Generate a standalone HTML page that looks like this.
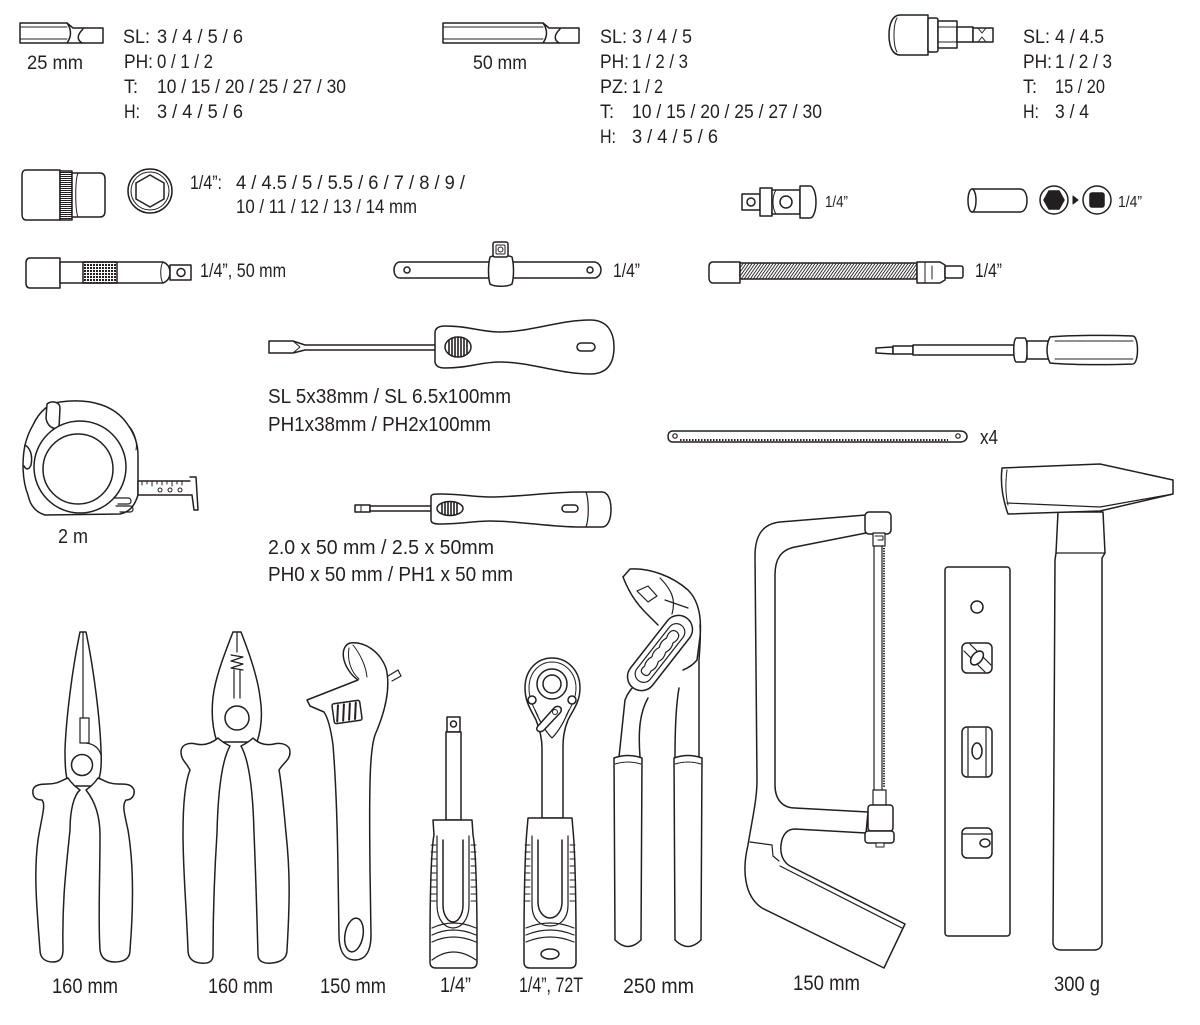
<!DOCTYPE html>
<html><head><meta charset="utf-8">
<style>
html,body{margin:0;padding:0;background:#fff;}
svg{display:block;}
text{font-family:"Liberation Sans",sans-serif;fill:#231f20;}
</style></head><body>
<svg width="1200" height="1025" viewBox="0 0 1200 1025" xmlns="http://www.w3.org/2000/svg">
<defs>
<pattern id="hl" width="4" height="2" patternUnits="userSpaceOnUse"><rect width="4" height="2" fill="#fff"/><rect width="4" height="1" fill="#231f20"/></pattern>
<pattern id="kn" width="3" height="3" patternUnits="userSpaceOnUse"><rect width="3" height="3" fill="#fff"/><rect width="2" height="2" fill="#231f20"/></pattern>
<pattern id="coil" width="3" height="20" patternUnits="userSpaceOnUse" patternTransform="skewX(-35)"><rect width="3" height="20" fill="#fff"/><rect width="1.1" height="20" fill="#231f20"/></pattern>
</defs>
<g fill="#fff" stroke="#231f20" stroke-width="1.5" stroke-linejoin="round" stroke-linecap="round">

<!-- Bit 25mm -->
<path d="M20,23 H67 L73,28 H103 V43 H20 Z"/>
<path d="M20,27 H67 M20,39 H67" fill="none" stroke-width="1"/>
<path d="M67,23 Q74,33 67,43" fill="none"/>
<path d="M83,29 Q74,38 82,43" fill="none"/>

<!-- Bit 50mm -->
<path d="M443,23 H543 L549,28 H579 V43 H443 Z"/>
<path d="M443,27 H543 M443,39 H543" fill="none" stroke-width="1"/>
<path d="M543,23 Q550,33 543,43" fill="none"/>
<path d="M560,29 Q551,38 559,43" fill="none"/>

<!-- Bit holder -->
<path d="M900,15 H928 V55 H900 C892,55 889,45 889,35 C889,25 892,15 900,15 Z"/>
<path d="M897,18 C893,25 893,45 897,52" fill="none" stroke-width="1"/>
<rect x="928" y="18" width="10" height="34" rx="2"/>
<rect x="938" y="21" width="19" height="27"/>
<path d="M938,27 H957 M938,42 H957" fill="none" stroke-width="1"/>
<rect x="957" y="27" width="16" height="15"/>
<rect x="973" y="28" width="20" height="14"/>
<path d="M978,28 L982,33 L986,28 M978,42 L982,37 L986,42" fill="none" stroke-width="1"/>

<!-- Socket -->
<path d="M26,170 H60 V220 H26 C23,220 22,217 22,214 V176 C22,172 23,170 26,170 Z"/>
<rect x="60" y="171" width="12" height="49" fill="url(#hl)"/>
<path d="M72,173 H100 C104,173 105,176 105,179 V211 C105,214 104,217 100,217 H72 Z"/>
<path d="M78,173 C75,180 75,210 78,217" fill="none" stroke-width="1"/>

<!-- Hex socket -->
<circle cx="150" cy="191" r="22"/>
<circle cx="150" cy="191" r="19" fill="none" stroke-width="1"/>
<polygon points="150,175 164,183 164,199 150,207 136,199 136,183"/>

<!-- U-joint -->
<rect x="742" y="194" width="18" height="16"/>
<circle cx="751" cy="202" r="4"/>
<rect x="760" y="188" width="12" height="28"/>
<path d="M772,190 H800 V214 H772 Z"/>
<path d="M776,190 C772,196 772,208 776,214" fill="none" stroke-width="1"/>
<circle cx="786" cy="202" r="6"/>
<path d="M800,186 H810 C814,186 816,195 816,202 C816,209 814,218 810,218 H800 Z"/>

<!-- Deep socket -->
<path d="M972,189 H1020 C1025,189 1027,195 1027,200.5 C1027,206 1025,212 1020,212 H972 Z"/>
<ellipse cx="972" cy="200.5" rx="4" ry="11.5"/>
<circle cx="1054" cy="200" r="14"/>
<polygon fill="#231f20" points="1044,200 1049,191 1059,191 1064,200 1059,209 1049,209"/>
<polygon fill="#231f20" stroke-width="1" points="1073,196 1078,200 1073,204"/>
<circle cx="1097" cy="200" r="14"/>
<rect x="1090" y="193" width="14" height="14" rx="2" fill="#231f20"/>

<!-- Extension bar -->
<path d="M30,258 H60 V288 H30 C27,288 26,286 26,283 V263 C26,260 27,258 30,258 Z"/>
<path d="M60,262 H163 C168,264 170,268 170,272.5 C170,277 168,281 163,283 H60 Z"/>
<rect x="83" y="262" width="34" height="21" fill="url(#kn)"/>
<path d="M163,262 C160,266 160,279 163,283" fill="none" stroke-width="1"/>
<rect x="170" y="265" width="21" height="15"/>
<circle cx="181" cy="272.5" r="4"/>

<!-- T-handle -->
<path d="M400,262 H594 C598,262 601,266 601,270 C601,274 598,278 594,278 H400 C396,278 394,274 394,270 C394,266 396,262 400,262 Z"/>
<circle cx="407" cy="270" r="3"/>
<circle cx="590" cy="270" r="3"/>
<path d="M490,257 C494,255 508,255 512,257 C514,265 514,277 512,284 C508,287 494,287 490,284 C488,277 488,265 490,257 Z"/>
<rect x="493" y="242" width="15" height="15" rx="2"/>
<rect x="496" y="245" width="9" height="9" rx="1" stroke-width="1"/>
<circle cx="500.5" cy="249.5" r="2.5" stroke-width="1"/>

<!-- Flex shaft -->
<path d="M713,262 H740 V283 H713 C710,283 709,280 709,278 V267 C709,264 710,262 713,262 Z"/>
<rect x="740" y="263" width="177" height="16" fill="url(#coil)"/>
<path d="M917,262 H940 L945,265 V280 L940,283 H917 Z"/>
<path d="M925,262 V283 M932,266 V279" fill="none" stroke-width="1"/>
<rect x="945" y="266" width="18" height="12" rx="2"/>

<!-- Screwdriver 1 -->
<path d="M269,341 H293 L305,345 H436 V350 H305 L293,353 H269 Z"/>
<path d="M293,341 L300,347 L293,353" fill="none" stroke-width="1"/>
<path d="M435,333 Q435,326 445,326 C470,326 480,332 500,332 C530,332 560,320 590,320 C609,320 614,334 614,347 C614,361 609,374 590,374 C560,374 530,362 500,362 C480,362 470,368 445,368 Q435,368 435,361 Z"/>
<ellipse cx="458" cy="347" rx="13" ry="10"/>
<path d="M449,340 V354 M452,338 V356 M455,337 V357 M458,337 V357 M461,337 V357 M464,338 V356 M467,340 V354" fill="none" stroke-width="1.6"/>
<rect x="577" y="343" width="18" height="8" rx="4"/>

<!-- Screwdriver 2 -->
<path d="M876,348 L893,347 V354 L876,353 Z"/>
<rect x="893" y="346" width="20" height="8"/>
<rect x="913" y="345" width="102" height="10"/>
<path d="M1016,338 H1025 C1028,341 1028,359 1025,362 H1016 C1013,359 1013,341 1016,338 Z"/>
<rect x="1027" y="341" width="23" height="18"/>
<path d="M1050,337 C1070,335 1110,335 1133,336 C1139,337 1139,363 1133,364 C1110,365 1070,365 1050,363 C1046,355 1046,345 1050,337 Z"/>
<path d="M1055,341 H1133 M1055,359 H1133" fill="none" stroke-width="1"/>

<!-- Hacksaw blade -->
<path d="M673,431 H960 C965,431 967,434 967,436.5 C967,439 965,442 960,442 H673 C669,442 668,439 668,436.5 C668,434 669,431 673,431 Z"/>
<circle cx="675" cy="436" r="2.2" stroke-width="1.2"/>
<circle cx="958" cy="436" r="2.2" stroke-width="1.2"/>
<path d="M680,440 H948" fill="none" stroke-width="2" stroke-dasharray="1.5 1.5" stroke-linecap="butt"/>

<!-- Precision screwdriver -->
<rect x="355" y="505" width="15" height="7"/>
<path d="M361,505 V512" fill="none" stroke-width="1"/>
<rect x="370" y="506" width="61" height="5"/>
<path d="M431,497 C431,494 434,494 440,494 C460,494 475,497 490,497 C520,497 550,492 580,492 H602 C608,492 611,500 611,509.5 C611,519 608,527 602,527 H580 C550,527 520,521 490,521 C475,521 460,524 440,524 C434,524 431,523 431,520 Z"/>
<path d="M586,492 C589,500 589,519 586,527" fill="none" stroke-width="1.2"/>
<ellipse cx="450" cy="508.5" rx="13" ry="7"/>
<path d="M442,504 V513 M445,502 V515 M448,502 V515 M451,502 V515 M454,502 V515 M457,503 V514" fill="none" stroke-width="1.6"/>
<rect x="562" y="505" width="16" height="7" rx="3.5"/>

<!-- Tape measure -->
<path d="M33,425 C40,410 50,403 60,402 C90,398 115,405 128,425 C135,435 138,445 138,455 L138,495 C135,505 130,512 120,514 L45,515 C35,512 30,505 28,495 C22,480 22,460 25,445 C27,437 30,430 33,425 Z"/>
<path d="M47,404 C52,400 60,402 60,408 L59,428 C52,430 47,425 46,418 Z"/>
<path d="M25,445 C30,448 33,455 31,465 C29,470 26,470 24,466" fill="none"/>
<circle cx="80" cy="467" r="46"/>
<circle cx="78" cy="469" r="35"/>
<path d="M128,425 C133,430 138,440 136,450" fill="none" stroke-width="1"/>
<rect x="138" y="481" width="55" height="14"/>
<path d="M142,481 V485 M147,481 V484 M152,481 V486 M157,481 V484 M162,481 V485 M167,481 V484 M172,481 V486 M177,481 V484 M182,481 V485" fill="none" stroke-width="1"/>
<circle cx="160" cy="490" r="2" stroke-width="1"/><circle cx="170" cy="490" r="2" stroke-width="1"/><circle cx="180" cy="490" r="2" stroke-width="1"/>
<path d="M190,477 L196,477 L198,510 L194,510 L192,495" />
<path d="M114,498 H128 C132,498 132,504 128,504 H118 M116,506 H130 C134,506 134,512 130,512 H120" fill="none" stroke-width="1.2"/>

<!-- Needle nose pliers -->
<path d="M80,632 L86,632 C94,670 100,720 101,750 C102,770 100,780 95,786 L70,786 C66,780 65,770 65,750 C66,720 72,670 80,632 Z"/>
<path d="M83,632 V718" fill="none" stroke-width="1.2"/>
<rect x="80" y="718" width="9" height="25" stroke-width="1.2"/>
<path d="M86,743 C94,744 99,748 101,755" fill="none" stroke-width="1.2"/>
<circle cx="82" cy="765" r="10.5"/>
<path d="M80,790 C74,795 70,810 70,830 C66,870 62,900 63,950 C63,958 60,962 53,962 C45,962 40,958 40,950 C36,900 34,870 38,840 C42,815 46,805 42,800 C36,800 32,797 33,790 C34,785 40,784 48,784 C58,784 62,780 68,778 C72,784 76,787 80,790 Z"/>
<path d="M86,790 C94,800 100,815 100,835 C100,880 98,920 100,950 C101,958 106,962 115,962 C125,962 130,958 130,950 C134,900 133,860 128,830 C124,812 122,805 126,800 C132,800 135,795 134,790 C132,784 126,784 118,784 C108,784 104,780 98,778 C94,784 90,787 86,790 Z"/>

<!-- Combination pliers -->
<path d="M233,632 L241,632 C252,660 258,680 260,697 C263,715 261,730 257,742 L217,742 C213,730 211,715 213,697 C215,680 222,660 233,632 Z"/>
<path d="M237,632 V652 M231,655 L243,657 L231,661 L243,664 L231,668 L243,670 M234,670 V698 M240,670 V698" fill="none" stroke-width="1.2"/>
<circle cx="237" cy="718" r="12"/>
<path d="M230,746 C222,760 218,790 217,833 C214,880 213,920 213,955 C213,962 208,964 200,963 C192,962 188,958 188,950 C186,900 183,870 183,833 C183,800 186,780 190,770 C186,762 181,760 181,752 C181,745 188,742 196,744 C205,746 212,743 218,738 C222,742 226,744 230,746 Z"/>
<path d="M241,746 C249,760 253,790 254,833 C256,880 257,920 258,955 C258,962 265,964 272,963 C282,962 287,958 287,950 C290,900 290,870 286,833 C283,800 281,780 279,770 C284,762 290,760 290,752 C290,745 282,742 274,744 C265,746 258,743 253,738 C249,742 245,744 241,746 Z"/>

<!-- Adjustable wrench -->
<path d="M307,700 L358,680 C352,676 346,668 344,660 C342,652 344,645 350,643 C365,641 380,652 386,668 C391,688 385,712 375,735 C370,750 369,780 370,870 L371,935 C371,952 365,960 355,960 C345,960 339,952 339,935 L338,870 C337,800 335,770 333,745 C331,730 328,718 324,712 L310,706 Z"/>
<path d="M349,648 C347,660 351,672 359,679 M353,645 C361,655 366,667 367,677" fill="none" stroke-width="1"/>
<path d="M388,676 L398,670 L401,676 L392,681" fill="none" stroke-width="1.2"/>
<g transform="rotate(-8 347 712)"><rect x="333" y="702" width="28" height="20" rx="2"/>
<path d="M339,704 L336,720 M345,704 L342,720 M351,704 L348,720 M357,704 L354,720" fill="none" stroke-width="2"/></g>
<ellipse cx="354" cy="935" rx="9" ry="17" transform="rotate(10 354 935)"/>

<!-- Spinner handle -->
<rect x="447" y="717" width="13" height="15"/>
<circle cx="453.5" cy="724" r="3"/>
<rect x="446" y="732" width="15" height="88"/>
<path d="M433,820 H472 L473,835 C476,850 477,900 477,940 L477,962 C477,966 475,968 471,968 H436 C432,968 430,966 430,962 L430,940 C430,900 431,850 434,835 Z"/>
<path d="M437,836 V905 C437,920 445,928 453,928 C461,928 469,920 469,905 V836" fill="none" stroke-width="1.2"/>
<path d="M443,840 V905 C443,915 448,922 453,922 C458,922 463,915 463,905 V840" fill="none"/>
<path d="M431,845 H436 M431,852 H436 M431,859 H436 M431,866 H436 M431,873 H436 M431,880 H436 M431,887 H436 M431,894 H436 M431,901 H436 M471,845 H476 M471,852 H476 M471,859 H476 M471,866 H476 M471,873 H476 M471,880 H476 M471,887 H476 M471,894 H476 M471,901 H476" fill="none" stroke-width="1"/>
<path d="M432,928 Q453,918 476,928 M432,935 Q453,925 476,935 M432,942 Q453,932 476,942 M432,960 Q453,944 476,960" fill="none" stroke-width="1.2"/>

<!-- Ratchet -->
<path d="M552,658 C567,658 580,670 580,688 C580,702 573,710 568,720 C564,730 563,738 563,748 L563,818 H542 L542,748 C542,738 540,730 536,720 C531,710 525,702 525,688 C525,670 537,658 552,658 Z"/>
<path d="M552,662 C564,662 576,672 576,688 C576,700 570,708 566,716 M552,662 C540,662 529,672 529,688 C529,700 534,708 538,716" fill="none" stroke-width="1"/>
<circle cx="552" cy="684" r="15"/>
<circle cx="552" cy="684" r="9"/>
<circle cx="532" cy="700" r="4"/>
<circle cx="572" cy="700" r="4"/>
<path d="M535,710 C540,722 546,732 552,738 C558,732 564,722 569,710" fill="none" stroke-width="1.2"/>
<path d="M538,726 L554,708 C558,704 564,708 560,713 L544,730 C540,734 534,730 538,726 Z"/>
<circle cx="555" cy="712" r="2.5" stroke-width="1"/>
<path d="M528,818 H572 L573,830 C575,850 576,900 576,940 V962 C576,966 574,968 570,968 H530 C526,968 524,966 524,962 V940 C524,900 525,850 527,830 Z"/>
<path d="M532,836 V905 C532,920 541,926 550,926 C559,926 568,920 568,905 V836" fill="none" stroke-width="1.2"/>
<path d="M538,840 V902 C538,912 544,918 550,918 C556,918 562,912 562,902 V840" fill="none"/>
<path d="M525,845 H530 M525,852 H530 M525,859 H530 M525,866 H530 M525,873 H530 M525,880 H530 M525,887 H530 M525,894 H530 M525,901 H530 M570,845 H575 M570,852 H575 M570,859 H575 M570,866 H575 M570,873 H575 M570,880 H575 M570,887 H575 M570,894 H575 M570,901 H575" fill="none" stroke-width="1"/>
<path d="M526,928 Q550,918 574,928 M526,935 Q550,925 574,935 M526,942 Q550,932 574,942" fill="none" stroke-width="1.2"/>
<ellipse cx="550" cy="954" rx="9" ry="5"/>

<!-- Water pump pliers -->
<path d="M619,757 L625,700 C628,692 632,688 636,684 M640,757 C638,730 640,712 648,698" fill="none"/>
<path d="M675,757 C675,730 676,705 679,688 M699,757 L699,660 C700,645 701,635 700,625" fill="none"/>
<path d="M623,577 L630,569 C650,568 672,576 688,590 C698,600 702,615 700,637 L697,660 C693,665 688,668 683,670" fill="none"/>
<path d="M623,577 C628,590 636,603 645,612 L658,625" fill="none"/>
<path d="M660,578 C672,590 676,600 672,614 M665,600 L688,608" fill="none" stroke-width="1.2"/>
<polygon points="637,591 648,586 657,596 648,602" stroke-width="1.2"/>
<g transform="translate(660,653) rotate(-52)">
<rect x="-44" y="-14" width="88" height="28" rx="14"/>
<rect x="-35" y="-8.5" width="70" height="17" rx="8.5" stroke-width="1.2"/>
<path d="M-27,0 C-27,-5 -23,-5 -20,-4 C-16,-6 -12,-6 -8,-4 C-4,-6 0,-6 4,-4 C8,-6 12,-6 16,-4 C20,-6 27,-6 27,0 C27,6 20,6 16,4 C12,6 8,6 4,4 C0,6 -4,6 -8,4 C-12,6 -16,6 -20,4 C-23,5 -27,5 -27,0 Z" stroke-width="1.2"/>
</g>
<path d="M614,758 Q628,753 642,758 L641,940 Q628,953 615,940 Z"/>
<path d="M674,758 Q688,753 702,758 L701,940 Q688,953 675,940 Z"/>
<path d="M615,764 Q628,760 641,764 M675,764 Q688,760 701,764" fill="none" stroke-width="1"/>

<!-- Hacksaw frame -->
<path d="M866,515 L780,522 C762,524 755,536 755,556 L757,780 C757,800 752,820 748,845 C742,870 744,896 762,908 L884,968 L905,924 L790,866 C783,862 780,854 781,845 C782,835 787,829 795,829 L866,833 L868,812 L795,808 C783,808 775,800 775,785 L775,575 C775,560 780,550 795,547 L866,533 Z"/>
<path d="M750,842 L772,845 L773,856 L779,861 M780,866 L902,928" fill="none" stroke-width="1.2"/>
<rect x="865" y="512" width="26" height="22" rx="4"/>
<rect x="873" y="533" width="12" height="13" stroke-width="1.2"/>
<path d="M875,536 H883 V540 H878" fill="none" stroke-width="1"/>
<path d="M874,546 V790 M882,546 V790" fill="none" stroke-width="1.2"/>
<path d="M884,548 V788" fill="none" stroke-width="2" stroke-dasharray="1.2 1.3" stroke-linecap="butt"/>
<rect x="873" y="790" width="13" height="16" stroke-width="1.2"/>
<rect x="868" y="805" width="25" height="26" rx="3"/>
<rect x="865" y="831" width="29" height="12" rx="3"/>
<rect x="876" y="843" width="8" height="4" stroke-width="1"/>

<!-- Level -->
<rect x="945" y="567" width="65" height="369" rx="3"/>
<circle cx="977" cy="607" r="6"/>
<rect x="962" y="643" width="30" height="30" rx="5"/>
<path d="M964,651 L985,672 M970,644 L991,665" fill="none" stroke-width="1.2"/>
<ellipse cx="977" cy="658" rx="5" ry="8" transform="rotate(40 977 658)"/>
<rect x="962" y="727" width="30" height="50" rx="5"/>
<path d="M968,728 V776 M986,728 V776" fill="none" stroke-width="1.2"/>
<ellipse cx="977" cy="751" rx="5" ry="8"/>
<rect x="962" y="828" width="30" height="30" rx="5"/>
<path d="M963,834 H991" fill="none" stroke-width="1.2"/>
<ellipse cx="985" cy="843" rx="5" ry="4"/>

<!-- Hammer -->
<path d="M1058,512 L1103,512 L1105,553 L1102,558 L1102,942 C1102,947 1099,950 1094,950 H1061 C1056,950 1053,947 1053,942 L1055,560 L1056,553 Z"/>
<path d="M1056,553 H1105" fill="none" stroke-width="1.2"/>
<path d="M1002,468 L1100,464 L1173,480 L1173,494 L1100,511 L1008,514 C1003,500 1000,485 1002,468 Z"/>
<path d="M1007,503 L1100,507 L1173,494" fill="none" stroke-width="1.2"/>
<path d="M1007,470 C1005,485 1006,497 1008,505" fill="none" stroke-width="1"/>
</g>

<g>
<!-- top left -->
<text x="27" y="69" font-size="19" textLength="56" lengthAdjust="spacingAndGlyphs">25 mm</text>
<text x="123" y="43" font-size="19" textLength="27" lengthAdjust="spacingAndGlyphs">SL:</text>
<text x="157" y="43" font-size="19" textLength="86" lengthAdjust="spacingAndGlyphs">3 / 4 / 5 / 6</text>
<text x="124" y="68" font-size="19" textLength="29" lengthAdjust="spacingAndGlyphs">PH:</text>
<text x="157" y="68" font-size="19" textLength="56" lengthAdjust="spacingAndGlyphs">0 / 1 / 2</text>
<text x="124" y="93" font-size="19" textLength="14" lengthAdjust="spacingAndGlyphs">T:</text>
<text x="157" y="93" font-size="19" textLength="189" lengthAdjust="spacingAndGlyphs">10 / 15 / 20 / 25 / 27 / 30</text>
<text x="124" y="118" font-size="19" textLength="16" lengthAdjust="spacingAndGlyphs">H:</text>
<text x="157" y="118" font-size="19" textLength="86" lengthAdjust="spacingAndGlyphs">3 / 4 / 5 / 6</text>
<!-- top middle -->
<text x="473" y="69" font-size="19" textLength="54" lengthAdjust="spacingAndGlyphs">50 mm</text>
<text x="600" y="43" font-size="19" textLength="27" lengthAdjust="spacingAndGlyphs">SL:</text>
<text x="632" y="43" font-size="19" textLength="60" lengthAdjust="spacingAndGlyphs">3 / 4 / 5</text>
<text x="600" y="68" font-size="19" textLength="29" lengthAdjust="spacingAndGlyphs">PH:</text>
<text x="632" y="68" font-size="19" textLength="56" lengthAdjust="spacingAndGlyphs">1 / 2 / 3</text>
<text x="600" y="93" font-size="19" textLength="28" lengthAdjust="spacingAndGlyphs">PZ:</text>
<text x="632" y="93" font-size="19" textLength="31" lengthAdjust="spacingAndGlyphs">1 / 2</text>
<text x="600" y="118" font-size="19" textLength="14" lengthAdjust="spacingAndGlyphs">T:</text>
<text x="632" y="118" font-size="19" textLength="190" lengthAdjust="spacingAndGlyphs">10 / 15 / 20 / 25 / 27 / 30</text>
<text x="600" y="143" font-size="19" textLength="16" lengthAdjust="spacingAndGlyphs">H:</text>
<text x="632" y="143" font-size="19" textLength="86" lengthAdjust="spacingAndGlyphs">3 / 4 / 5 / 6</text>
<!-- top right -->
<text x="1023" y="43" font-size="19" textLength="27" lengthAdjust="spacingAndGlyphs">SL:</text>
<text x="1055" y="43" font-size="19" textLength="49" lengthAdjust="spacingAndGlyphs">4 / 4.5</text>
<text x="1023" y="68" font-size="19" textLength="29" lengthAdjust="spacingAndGlyphs">PH:</text>
<text x="1055" y="68" font-size="19" textLength="57" lengthAdjust="spacingAndGlyphs">1 / 2 / 3</text>
<text x="1023" y="93" font-size="19" textLength="14" lengthAdjust="spacingAndGlyphs">T:</text>
<text x="1055" y="93" font-size="19" textLength="50" lengthAdjust="spacingAndGlyphs">15 / 20</text>
<text x="1023" y="118" font-size="19" textLength="16" lengthAdjust="spacingAndGlyphs">H:</text>
<text x="1055" y="118" font-size="19" textLength="34" lengthAdjust="spacingAndGlyphs">3 / 4</text>
<!-- row 2 -->
<text x="190" y="189" font-size="19" textLength="32" lengthAdjust="spacingAndGlyphs">1/4”:</text>
<text x="236" y="189" font-size="19" textLength="229" lengthAdjust="spacingAndGlyphs">4 / 4.5 / 5 / 5.5 / 6 / 7 / 8 / 9 /</text>
<text x="236" y="213" font-size="19" textLength="181" lengthAdjust="spacingAndGlyphs">10 / 11 / 12 / 13 / 14 mm</text>
<text x="825" y="207" font-size="16" textLength="23" lengthAdjust="spacingAndGlyphs">1/4”</text>
<text x="1118" y="207" font-size="16" textLength="24" lengthAdjust="spacingAndGlyphs">1/4”</text>
<!-- row 3 -->
<text x="200" y="277" font-size="19" textLength="86" lengthAdjust="spacingAndGlyphs">1/4”, 50 mm</text>
<text x="613" y="277" font-size="19" textLength="27" lengthAdjust="spacingAndGlyphs">1/4”</text>
<text x="975" y="277" font-size="19" textLength="27" lengthAdjust="spacingAndGlyphs">1/4”</text>
<!-- screwdrivers -->
<text x="268" y="403" font-size="20" textLength="243" lengthAdjust="spacingAndGlyphs">SL 5x38mm / SL 6.5x100mm</text>
<text x="268" y="431" font-size="20" textLength="223" lengthAdjust="spacingAndGlyphs">PH1x38mm / PH2x100mm</text>
<text x="980" y="444" font-size="20" textLength="18" lengthAdjust="spacingAndGlyphs">x4</text>
<text x="58" y="543" font-size="20" textLength="30" lengthAdjust="spacingAndGlyphs">2 m</text>
<text x="268" y="554" font-size="20" textLength="226" lengthAdjust="spacingAndGlyphs">2.0 x 50 mm / 2.5 x 50mm</text>
<text x="268" y="581" font-size="20" textLength="245" lengthAdjust="spacingAndGlyphs">PH0 x 50 mm / PH1 x 50 mm</text>
<!-- bottom -->
<text x="52" y="993" font-size="21" textLength="66" lengthAdjust="spacingAndGlyphs">160 mm</text>
<text x="208" y="993" font-size="21" textLength="65" lengthAdjust="spacingAndGlyphs">160 mm</text>
<text x="320" y="993" font-size="21" textLength="66" lengthAdjust="spacingAndGlyphs">150 mm</text>
<text x="440" y="992" font-size="21" textLength="31" lengthAdjust="spacingAndGlyphs">1/4”</text>
<text x="519" y="992" font-size="21" textLength="64" lengthAdjust="spacingAndGlyphs">1/4”, 72T</text>
<text x="623" y="993" font-size="21" textLength="71" lengthAdjust="spacingAndGlyphs">250 mm</text>
<text x="793" y="990" font-size="21" textLength="67" lengthAdjust="spacingAndGlyphs">150 mm</text>
<text x="1054" y="991" font-size="21" textLength="46" lengthAdjust="spacingAndGlyphs">300 g</text>
</g>
</svg>
</body></html>
